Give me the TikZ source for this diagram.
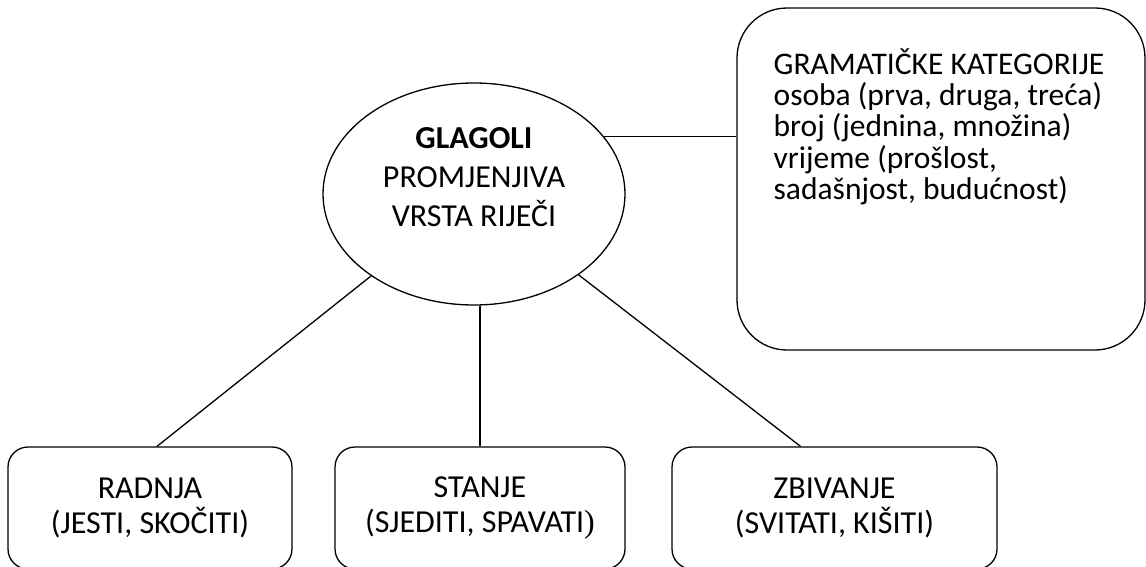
\documentclass[tikz,border=0pt]{standalone}
\usepackage{fontspec}
\setmainfont{Carlito}
\newfontfamily\parenfont{Liberation Serif}
\usetikzlibrary{shapes.geometric}
\begin{document}
\begin{tikzpicture}[
x=1pt, y=-1pt,
line width=1.3pt,
every node/.style = {align=center, font=\fontsize{32}{35}\selectfont},
vrsta/.style = {shape=rectangle, rounded corners=20pt, draw, minimum height=122pt},
]
  \useasboundingbox (0,0) rectangle (1146,567);
  \node[shape=ellipse, draw, minimum width=302pt, minimum height=222pt] (glagoli) at (474,194) {};
  \node[anchor=base, font=\fontsize{32}{39}\selectfont] (glagolitxt) at (474,226)
    {\textbf{GLAGOLI}\\PROMJENJIVA\\VRSTA RIJEČI};
  \node[shape=rectangle, rounded corners=50pt, draw, minimum width=408pt, minimum height=342pt] (kategorije) at (941,179) {};
  \node[anchor=base west, align=left, inner sep=0pt, font=\fontsize{31.5}{31.5}\selectfont] (kategorijetxt) at (773,200)
    {GRAMATIČKE KATEGORIJE\\osoba (prva, druga, treća)\\broj (jednina, množina)\\vrijeme (prošlost,\\sadašnjost, budućnost)};
  \node[vrsta, minimum width=284pt] (radnja) at (150,508) {RADNJA\\(JESTI, SKOČITI)};
  \node[vrsta, minimum width=290pt] (stanje) at (480,508) {STANJE\\(SJEDITI, SPAVATI{\parenfont )}};
  \node[vrsta, minimum width=325pt] (zbivanje) at (834.5,508) {ZBIVANJE\\(SVITATI, KIŠITI)};
  \draw (glagoli.24.2) -- (glagoli.24.2 -| kategorije.west);
  \draw (glagoli) -- ([xshift=7pt]radnja.north);
  \draw (stanje.north) -- (stanje.north |- glagoli.south);
  \draw (glagoli) -- ([xshift=-34pt]zbivanje.north);
\end{tikzpicture}
\end{document}
